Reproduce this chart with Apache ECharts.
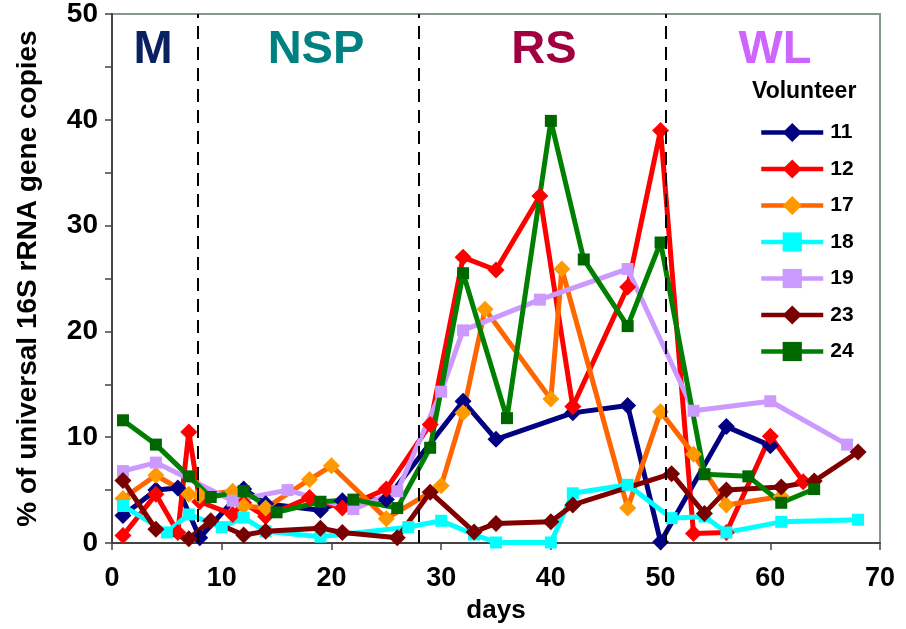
<!DOCTYPE html>
<html>
<head>
<meta charset="utf-8">
<script src="https://cdn.jsdelivr.net/npm/echarts@6/dist/echarts.min.js"></script>
<style>
  html, body { margin: 0; padding: 0; background: #fff; }
  #chart { width: 906px; height: 629px; }
</style>
</head>
<body>
<div id="chart"></div>
<script>
// Percentage of universal 16S rRNA gene copies per volunteer, [day, value]
const vol11 = [[1,2.6],[4,5.0],[6,5.2],[8,0.5],[12,5.1],[14,3.7],[19,3.1],[21,4.0],[25,4.1],[32,13.4],[35,9.8],[42,12.3],[47,13.0],[50,0.1],[56,11.0],[60,9.2]];
const vol12 = [[1,0.7],[4,4.6],[6,1.0],[7,10.5],[8,3.9],[11,2.7],[12,3.8],[14,2.5],[18,4.3],[21,3.3],[25,5.1],[29,11.2],[32,27.0],[35,25.8],[39,32.8],[42,12.9],[47,24.2],[50,39.0],[53,0.9],[56,1.0],[60,10.1],[63,5.8]];
const vol17 = [[1,4.2],[4,6.4],[7,4.6],[8,4.5],[11,4.9],[12,3.5],[14,3.3],[18,6.0],[20,7.3],[25,2.3],[30,5.4],[32,12.3],[34,22.1],[40,13.6],[41,25.9],[47,3.3],[50,12.4],[53,8.4],[56,3.6],[61,4.4]];
const vol18 = [[1,3.5],[5,1.0],[7,2.7],[10,1.5],[12,2.4],[14,1.1],[19,0.6],[27,1.5],[30,2.1],[33,0.8],[35,0.05],[40,0.05],[42,4.7],[47,5.5],[51,2.35],[54,2.5],[56,1.0],[61,2.0],[68,2.2]];
const vol19 = [[1,6.8],[4,7.6],[11,4.0],[16,5.0],[22,3.2],[26,4.9],[30,14.3],[32,20.1],[39,23.0],[47,25.9],[53,12.5],[60,13.4],[67,9.3]];
const vol23 = [[1,5.9],[4,1.3],[7,0.4],[9,2.1],[12,0.75],[14,1.1],[19,1.4],[21,1.0],[26,0.5],[29,4.8],[33,1.05],[35,1.85],[40,2.0],[42,3.6],[51,6.55],[54,2.8],[56,5.0],[61,5.3],[64,5.85],[68,8.6]];
const vol24 = [[1,11.6],[4,9.3],[7,6.3],[9,4.35],[12,4.9],[15,2.9],[19,3.9],[22,4.1],[26,3.3],[29,9.0],[32,25.5],[36,11.8],[40,39.9],[43,26.8],[47,20.5],[50,28.4],[54,6.5],[58,6.3],[61,3.8],[64,5.1]];

const volunteerNames = ['11', '12', '17', '18', '19', '23', '24'];
const phaseBoundaries = [7.85, 28, 50.5];
const phaseNames = ['M', 'NSP', 'RS', 'WL'];

const FONT = '"Liberation Sans", Arial, sans-serif';

const styles = {
  '11': { line: '#000080', mark: '#000080', symbol: 'diamond', size: 17 },
  '12': { line: '#ff0000', mark: '#ff0000', symbol: 'diamond', size: 17 },
  '17': { line: '#ff6600', mark: '#ff9900', symbol: 'diamond', size: 17 },
  '18': { line: '#00ffff', mark: '#00ffff', symbol: 'rect', size: 12 },
  '19': { line: '#cc99ff', mark: '#cc99ff', symbol: 'rect', size: 12 },
  '23': { line: '#800000', mark: '#780000', symbol: 'diamond', size: 17 },
  '24': { line: '#008000', mark: '#006600', symbol: 'rect', size: 12 }
};
const seriesData = [vol11, vol12, vol17, vol18, vol19, vol23, vol24];

const series = volunteerNames.map((name, i) => {
  const s = styles[name];
  const item = {
    name: name,
    type: 'line',
    data: seriesData[i],
    symbol: s.symbol,
    symbolSize: s.size,
    showAllSymbol: true,
    lineStyle: { color: s.line, width: 5 },
    itemStyle: { color: s.mark, borderWidth: 0 },
    emphasis: { disabled: true }
  };
  if (i === 0) {
    item.markLine = {
      silent: true,
      symbol: ['none', 'none'],
      label: { show: false },
      lineStyle: { color: '#000', type: [13, 8], width: 2 },
      data: phaseBoundaries.map(x => ({ xAxis: x }))
    };
  }
  return item;
});

const phaseColors = ['#0a2060', '#008080', '#a00040', '#cc66ff'];
const phaseCenters = [153, 316, 544, 775];

const chart = echarts.init(document.getElementById('chart'), null, { renderer: 'canvas' });
chart.setOption({
  animation: false,
  backgroundColor: '#fff',
  grid: {
    left: 112, right: 26, top: 11, bottom: 85,
    show: true, borderColor: '#8a9a8a', borderWidth: 2, backgroundColor: 'transparent'
  },
  xAxis: {
    type: 'value', min: 0, max: 70, interval: 10,
    name: 'days', nameLocation: 'middle', nameGap: 55,
    nameTextStyle: { fontFamily: FONT, fontWeight: 'bold', fontSize: 26, color: '#000' },
    axisLine: { lineStyle: { color: '#444', width: 2 } },
    axisTick: { show: true, inside: false, length: 7, lineStyle: { color: '#444', width: 1.5 } },
    axisLabel: { margin: 22, fontFamily: FONT, fontWeight: 'bold', fontSize: 27, color: '#000' },
    splitLine: { show: false }
  },
  yAxis: {
    type: 'value', min: 0, max: 50, interval: 5,
    name: '% of universal 16S rRNA gene copies', nameLocation: 'middle', nameGap: 70,
    nameTextStyle: { fontFamily: FONT, fontWeight: 'bold', fontSize: 28, color: '#000' },
    axisLine: { show: true, lineStyle: { color: '#444', width: 2 } },
    axisTick: { show: true, inside: false, length: 7, lineStyle: { color: '#444', width: 1.5 } },
    axisLabel: {
      margin: 14, fontFamily: FONT, fontWeight: 'bold', fontSize: 28, color: '#000',
      formatter: v => (v % 10 === 0 ? String(v) : '')
    },
    splitLine: { show: false }
  },
  legend: {
    data: volunteerNames,
    orient: 'vertical',
    left: 759, top: 122,
    padding: 0,
    itemWidth: 62, itemHeight: 24, itemGap: 15.5,
    lineStyle: { width: 4.5 },
    textStyle: { fontFamily: FONT, fontWeight: 'bold', fontSize: 21, color: '#000', padding: [0, 0, 0, 2] },
    selectedMode: false
  },
  graphic: [
    {
      type: 'text', left: 752, top: 80,
      style: { text: 'Volunteer', font: 'bold 23px ' + FONT, fill: '#000' }
    }
  ].concat(phaseNames.map((p, i) => ({
    type: 'text', x: phaseCenters[i], y: 50,
    style: { text: p, font: 'bold 47px ' + FONT, fill: phaseColors[i], align: 'center', verticalAlign: 'middle' }
  }))),
  series: series
});
</script>
</body>
</html>
